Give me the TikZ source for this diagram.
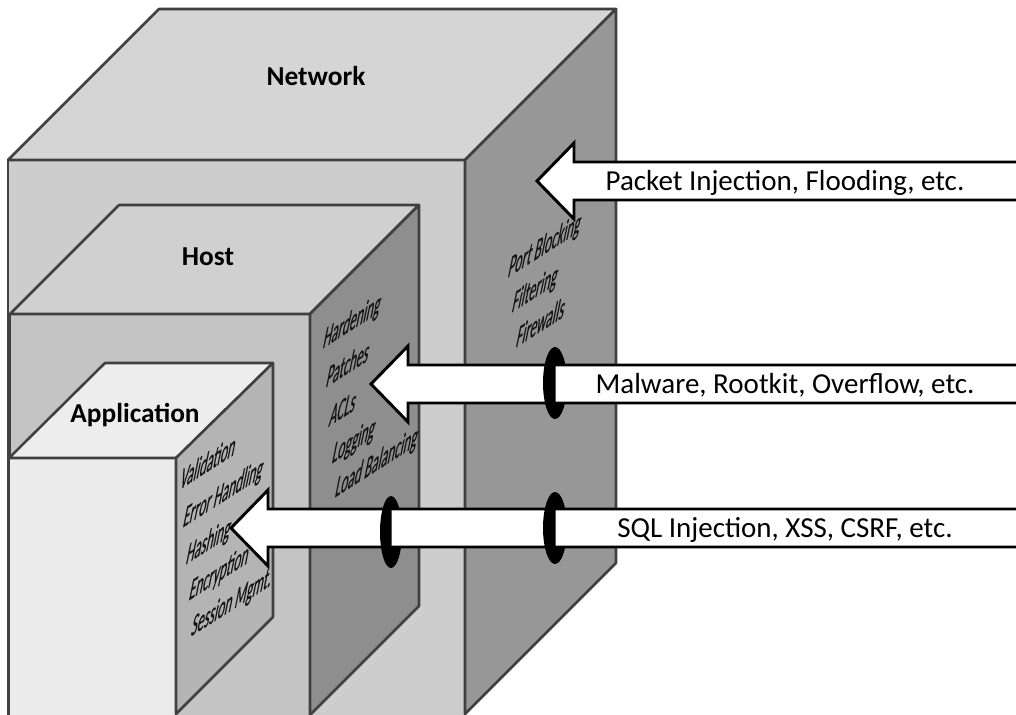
\documentclass[tikz,border=0pt]{standalone}
\usepackage{fontspec}
\setmainfont{Carlito}
\newfontfamily\wallfont{Carlito}[FakeBold=0.6]

\definecolor{edgegray}{HTML}{404040}
\definecolor{netTop}{HTML}{D5D5D5}
\definecolor{netFront}{HTML}{CDCDCD}
\definecolor{netSide}{HTML}{979797}
\definecolor{hostTop}{HTML}{D0D0D0}
\definecolor{hostFront}{HTML}{C4C4C4}
\definecolor{hostSide}{HTML}{8E8E8E}
\definecolor{appTop}{HTML}{EDEDED}
\definecolor{appFront}{HTML}{EBEBEB}
\definecolor{appSide}{HTML}{B4B4B4}
\definecolor{textgray}{HTML}{141414}

% block arrow: name, tip x, centre y, label
\newcommand\attackarrow[4]{%
  \draw[arrowbox] (#2,#3) -- ++(37,-38) -- ++(0,19) -- (1030,{#3-19})
    -- (1030,{#3+19}) -- ({#2+37},{#3+19}) -- ({#2+37},{#3+38}) -- cycle;
  \node[attack] (#1) at (785,{#3+9.5}) {#4};
}
% ring around a shaft: back part (whole ellipse) and front part over the shaft
\newcommand\ringback[3]{\fill[black] (#1,#2) ellipse [x radius=#3, y radius=36];}
\newcommand\ringfront[4]{%
  \begin{scope}
    \clip ({#1-#3-3},{#4-20}) rectangle ({#1+0.5},{#4+20});
    \fill[black] (#1,#2) ellipse [x radius=#3, y radius=36];
  \end{scope}}

\begin{document}
\begin{tikzpicture}[x=0.75pt,y=-0.75pt,
  edge/.style={draw=edgegray, line width=1.9pt, line join=round},
  arrowbox/.style={fill=white, draw=black, line width=2.2pt, line join=miter},
  boxlabel/.style={font=\fontsize{20.5}{24}\selectfont\bfseries, inner sep=0pt, anchor=base},
  attack/.style={font=\fontsize{21.75}{26}\selectfont, inner sep=0pt, anchor=base},
  facetext/.style={font=\wallfont\fontsize{16.5}{19}\selectfont, text=textgray, inner sep=0pt,
    anchor=base west, cm={0.61,0.39,0.30,1.48,(0,0)}},
]
\useasboundingbox (0,0) rectangle (1016,714);
\clip (0,0) rectangle (1016,714);

% Network layer
\filldraw[edge, fill=netFront] (8,160) -- (465,160) -- (465,740) -- (8,740) -- cycle;
\filldraw[edge, fill=netTop] (8,160) -- (159,9) -- (616,9) -- (465,160) -- cycle;
\filldraw[edge, fill=netSide] (465,160) -- (616,9) -- (616,563) -- (465,714) -- cycle;
\node[boxlabel] (network) at (316,85) {Network};

% Host layer
\filldraw[edge, fill=hostFront] (10,314) -- (310,314) -- (310,740) -- (10,740) -- cycle;
\filldraw[edge, fill=hostTop] (10,314) -- (119,205) -- (419,205) -- (310,314) -- cycle;
\filldraw[edge, fill=hostSide] (310,314) -- (419,205) -- (419,606) -- (310,715) -- cycle;
\node[boxlabel] (host) at (208,265) {Host};

% Application layer
\filldraw[edge, fill=appFront] (9,458) -- (176,458) -- (176,740) -- (9,740) -- cycle;
\filldraw[edge, fill=appTop] (9,458) -- (105,363) -- (273,363) -- (176,458) -- cycle;
\filldraw[edge, fill=appSide] (176,458) -- (273,363) -- (273,617) -- (176,714) -- cycle;
\node[boxlabel] (application) at (135,422) {Application};

% countermeasures on the side walls
\node[facetext] (portblocking) at (507,278) {Port Blocking};
\node[facetext] (filtering) at (511,313) {Filtering};
\node[facetext] (firewalls) at (515,348) {Firewalls};

\node[facetext] (hardening) at (322,349) {Hardening};
\node[facetext] (patches) at (325,388) {Patches};
\node[facetext] (acls) at (328,427) {ACLs};
\node[facetext] (logging) at (331,464) {Logging};
\node[facetext] (loadbalancing) at (334,498) {Load Balancing};

\node[facetext] (validation) at (179,490) {Validation};
\node[facetext] (errorhandling) at (182,528) {Error Handling};
\node[facetext] (hashing) at (185,565) {Hashing};
\node[facetext] (encryption) at (188,601) {Encryption};
\node[facetext] (sessionmgmt) at (190,637) {Session Mgmt.};

% rings where attacks pass through a wall
\ringback{555}{383}{12}
\ringback{555}{528}{12}
\ringback{391}{532}{11}

% attacks
\attackarrow{packet}{537}{181}{Packet Injection, Flooding, etc.}
\attackarrow{malware}{371}{384}{Malware, Rootkit, Overflow, etc.}
\attackarrow{sql}{231}{528}{SQL Injection, XSS, CSRF, etc.}

\ringfront{555}{383}{12}{384}
\ringfront{555}{528}{12}{528}
\ringfront{391}{532}{11}{528}
\end{tikzpicture}
\end{document}
